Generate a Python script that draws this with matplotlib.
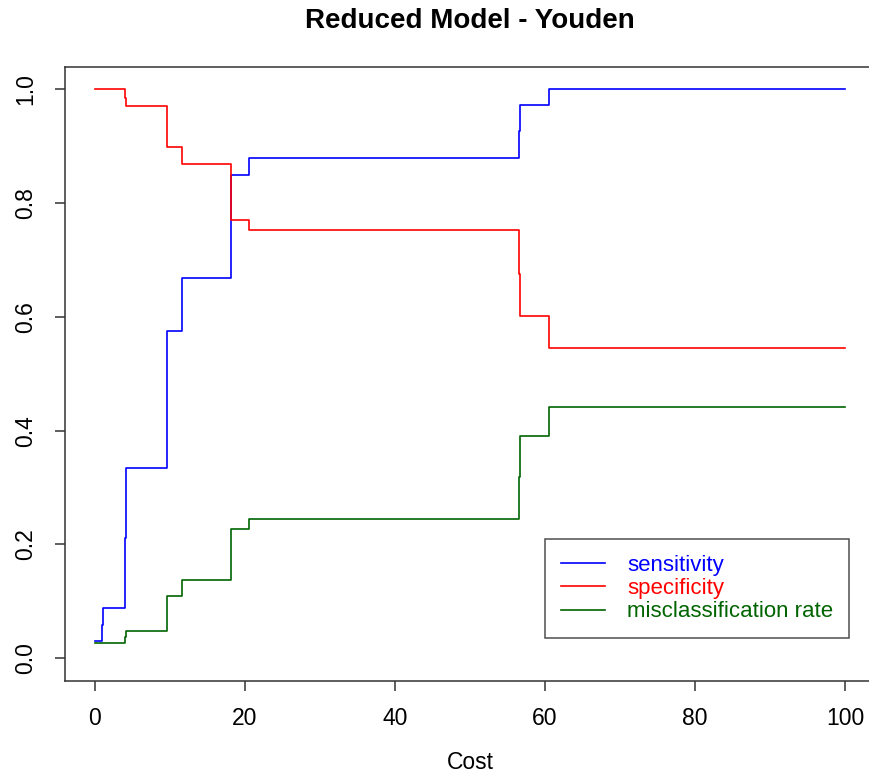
import matplotlib.pyplot as plt
import matplotlib

matplotlib.rcParams.update({
    'font.family': 'Liberation Sans',
    'font.size': 16,
    'axes.linewidth': 1.1,
})

# cost breakpoints (step changes) and the three curves
cost = [0, 0.9, 1.1, 4.0, 4.2, 9.6, 11.6, 18.1, 20.6, 56.5, 56.7, 60.6, 100]
sensitivity = [0.030, 0.059, 0.089, 0.212, 0.334, 0.576, 0.668, 0.850, 0.880,
               0.927, 0.972, 1.0, 1.0]
specificity = [1.0, 1.0, 1.0, 0.985, 0.970, 0.899, 0.869, 0.770, 0.753,
               0.676, 0.601, 0.546, 0.546]
misclass = [0.026, 0.026, 0.026, 0.038, 0.048, 0.109, 0.138, 0.227, 0.245,
            0.318, 0.390, 0.442, 0.442]

fig = plt.figure(figsize=(8.69, 7.75), dpi=100)
ax = fig.add_axes([0.0745, 0.1213, 0.9325, 0.7927])

ax.plot(cost, sensitivity, drawstyle='steps-post', color='#0000ff', lw=1.2, label='sensitivity')
ax.plot(cost, specificity, drawstyle='steps-post', color='#ff0000', lw=1.2, label='specificity')
ax.plot(cost, misclass, drawstyle='steps-post', color='#006400', lw=1.2, label='misclassification rate')

ax.set_xlim(-4, 104)
ax.set_ylim(-0.04, 1.04)
ax.set_xticks([0, 20, 40, 60, 80, 100])
ax.set_yticks([0.0, 0.2, 0.4, 0.6, 0.8, 1.0])
ax.set_yticklabels(['0.0', '0.2', '0.4', '0.6', '0.8', '1.0'], rotation=90, va='center')
ax.tick_params(axis='both', length=7, width=1.1, color='#333333', labelsize=16.5)
ax.tick_params(axis='x', pad=12)
ax.tick_params(axis='y', pad=13)
for s in ax.spines.values():
    s.set_color('#333333')

ax.set_xlabel('Cost', fontsize=16.5, labelpad=15)
ax.set_title('Reduced Model - Youden', fontsize=20, fontweight='bold', pad=28)

leg = ax.legend(loc='lower left', bbox_to_anchor=(0.593, 0.070), borderaxespad=0,
                frameon=True, fancybox=False, edgecolor='#222222', fontsize=16,
                labelcolor='linecolor', handlelength=2.0, handletextpad=1.0,
                borderpad=0.7, labelspacing=0.1)
leg.get_frame().set_linewidth(1.1)

fig.savefig('out.png', dpi=100)
